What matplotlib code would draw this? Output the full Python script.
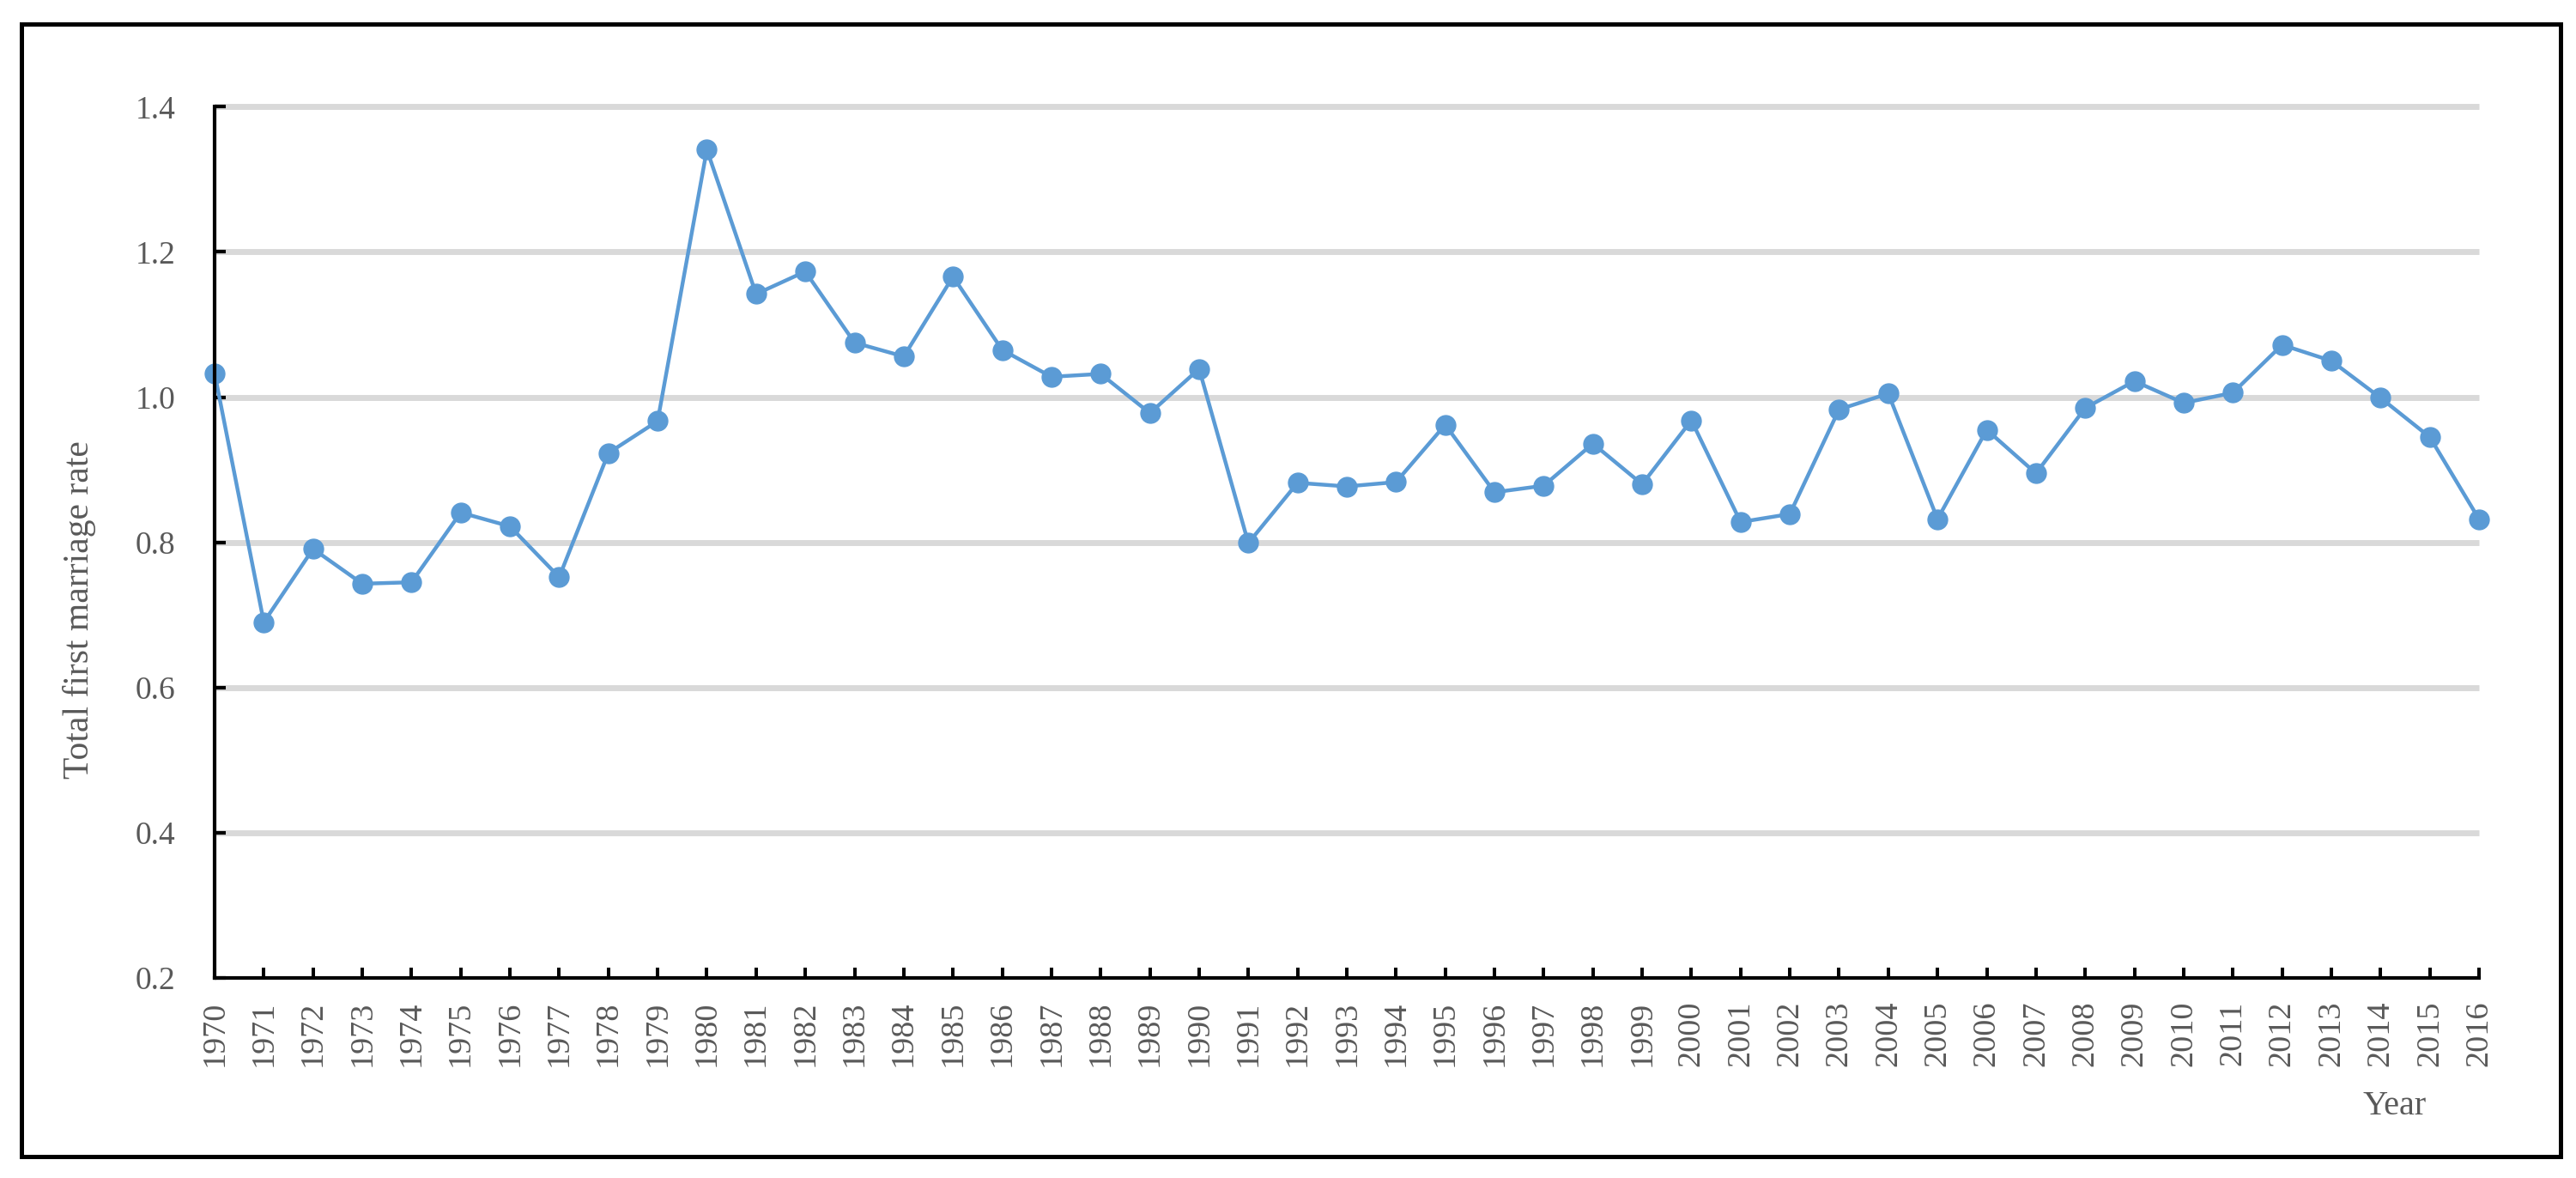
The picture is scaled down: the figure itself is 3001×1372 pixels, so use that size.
import matplotlib
matplotlib.use("Agg")
import matplotlib.pyplot as plt
from matplotlib.patches import Rectangle

# ---- data ----
years = list(range(1970, 2017))
rates = [1.033, 0.690, 0.791, 0.743, 0.745, 0.841, 0.822, 0.752, 0.923, 0.967,
         1.341, 1.142, 1.173, 1.075, 1.056, 1.166, 1.065, 1.028, 1.032, 0.978,
         1.039, 0.799, 0.882, 0.877, 0.883, 0.962, 0.869, 0.878, 0.936, 0.880,
         0.968, 0.828, 0.839, 0.983, 1.005, 0.832, 0.955, 0.895, 0.985, 1.022,
         0.992, 1.006, 1.072, 1.050, 0.999, 0.945, 0.832]
y_ticks = [0.2, 0.4, 0.6, 0.8, 1.0, 1.2, 1.4]
y_label = "Total first marriage rate"
x_label = "Year"

W, H = 3001, 1372
DPI = 100
plt.rcParams['font.family'] = ['Liberation Serif', 'DejaVu Serif']
TXT = '#595959'
BLUE = '#5B9BD5'

fig = plt.figure(figsize=(W / DPI, H / DPI), dpi=DPI)
fig.patch.set_facecolor('white')

ax = fig.add_axes([250 / W, 1 - 1139 / H, (2888 - 250) / W, (1139 - 124.3) / H])

# gridlines
for v in y_ticks[1:]:
    ax.axhline(v, color='#D9D9D9', lw=5, zorder=1, clip_on=False,
               solid_capstyle='butt')

ax.plot(years, rates, color=BLUE, lw=3.2, marker='o', markersize=16.5,
        markerfacecolor=BLUE, markeredgecolor=BLUE, zorder=3, clip_on=False)

ax.set_xlim(years[0], years[-1])
ax.set_ylim(y_ticks[0], y_ticks[-1])
ax.set_xticks(years)
ax.set_xticklabels([str(y) for y in years], rotation=90, fontsize=27.5, color=TXT)
ax.set_yticks(y_ticks)
ax.set_yticklabels([f"{v:.1f}" for v in y_ticks], fontsize=27, color=TXT)

ax.tick_params(axis='x', direction='in', length=8.6, width=2.9, color='black', pad=19)
ax.tick_params(axis='y', direction='in', length=9.4, width=3, color='black', pad=33)

for s in ['top', 'right']:
    ax.spines[s].set_visible(False)
for s in ['left', 'bottom']:
    ax.spines[s].set_linewidth(3)
    ax.spines[s].set_color('black')
    ax.spines[s].set_zorder(4)

# axis titles
fig.text(103 / W, 1 - 710 / H, y_label, rotation=90, rotation_mode='anchor',
         ha='center', va='baseline', fontsize=30, color=TXT)
fig.text(2790 / W, 1 - 1298 / H, x_label, ha='center', va='baseline',
         fontsize=29, color=TXT)

# outer frame
fig.patches.append(Rectangle((25 / W, 1 - 1347 / H), (2983 - 25) / W, (1347 - 28) / H,
                             transform=fig.transFigure, fill=False,
                             edgecolor='black', lw=3.6, zorder=10))

fig.savefig('out.png', dpi=DPI)
